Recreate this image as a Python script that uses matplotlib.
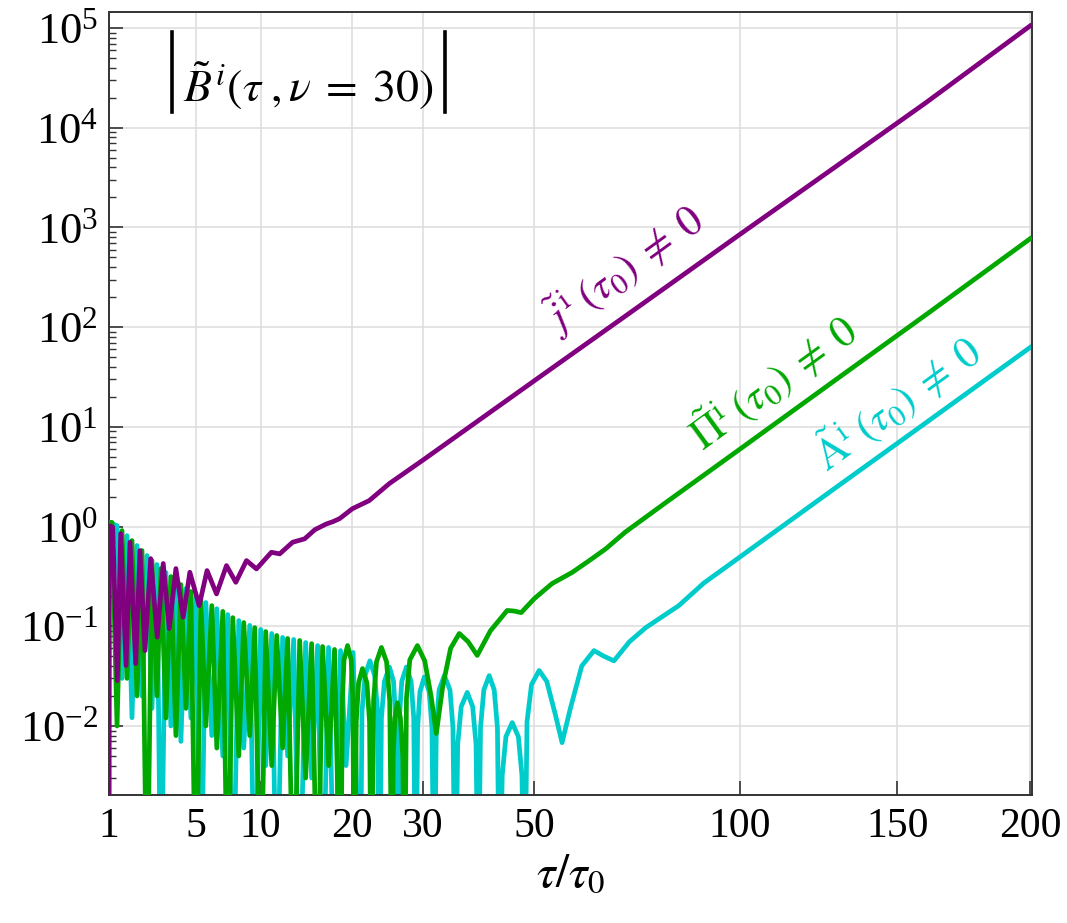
import numpy as np
import matplotlib
matplotlib.use("Agg")
import matplotlib.pyplot as plt
from matplotlib.ticker import LogLocator, FixedLocator, NullFormatter, LogFormatterMathtext

plt.rcParams['font.family'] = ['Liberation Serif', 'DejaVu Serif']
plt.rcParams['mathtext.fontset'] = 'stix'

# |B^i(tau, nu=30)|, j(tau0) != 0
tau_j = [1.0, 1.01, 1.108, 1.25, 1.361, 1.543, 1.688, 1.905, 2.077, 2.288, 2.541,
         2.849, 3.144, 3.455, 3.818, 4.235, 4.636, 5.225, 5.752, 6.42, 7.16, 7.89,
         8.77, 9.63, 11.0, 11.8, 13.1, 14.37, 15.5, 16.8, 17.6, 18.4, 20.0, 22.2,
         25.0, 30.0, 40.0, 50.0, 70.0, 100.0, 130.0, 160.0, 200.0]
B_j = [1e-4, 1.02, 0.984, 0.0285, 0.851, 0.0404, 0.696, 0.0423, 0.574, 0.057, 0.477,
       0.0776, 0.426, 0.0948, 0.379, 0.123, 0.348, 0.161, 0.362, 0.211, 0.406, 0.276,
       0.456, 0.376, 0.552, 0.532, 0.696, 0.753, 0.93, 1.06, 1.12, 1.20, 1.51, 1.82,
       2.70, 4.63, 12.3, 29.1, 129.0, 850.0, 4230.0, 17700.0, 1.05e5]

# Pi(tau0) != 0
tau_pi = [1.0, 1.087, 1.241, 1.404, 1.578, 1.762, 1.956, 2.161, 2.375, 2.600, 2.834,
          3.029, 3.282, 3.545, 3.818, 4.102, 4.395, 4.699, 5.012, 5.336, 5.670, 6.084,
          6.441, 6.882, 7.260, 7.649, 8.129, 8.540, 9.046, 9.480, 10.01, 10.47, 11.03,
          11.51, 12.09, 12.59, 13.21, 13.84, 14.48, 15.14, 15.81, 16.38, 17.08, 17.79,
          18.52, 18.75, 18.95, 19.39, 19.85, 20.05, 20.27, 20.5, 20.8, 21.31, 21.9,
          22.25, 22.51, 22.8, 23.2, 23.88, 24.6, 25.05, 25.4, 25.55, 25.8, 26.16, 26.6,
          26.95, 27.2, 27.5, 28.0, 29.16, 30.3, 31.3, 32.15, 33.2, 34.5, 35.97, 37.5,
          39.11, 41.5, 44.64, 46.0, 47.34, 50.0, 53.61, 57.86, 61.5, 65.46, 70.0,
          80.0, 100.0, 130.0, 160.0, 200.0]
B_pi = [1.1, 1.10, 0.010, 0.912, 0.03, 0.724, 0.02, 0.575, 1e-4, 0.456, 0.02,
        0.379, 0.012, 0.315, 0.008, 0.262, 0.015, 0.223, 1e-4, 0.185, 0.01, 0.161,
        0.006, 0.141, 1e-4, 0.122, 0.005, 0.109, 0.008, 0.097, 1e-4, 0.0885, 0.004,
        0.0808, 0.006, 0.0754, 1e-4, 0.072, 0.003, 0.067, 1e-4, 0.0626, 0.004, 0.0585,
        1e-4, 0.019, 0.046, 0.064, 0.046, 0.019, 1e-4, 0.011, 0.027, 0.0376, 0.027,
        0.011, 1e-4, 0.018, 0.044, 0.0613, 0.044, 0.018, 1e-4, 0.005, 0.012, 0.0171, 0.012,
        0.005, 1e-4, 0.019, 0.046, 0.064, 0.045, 0.02, 0.0084, 0.025, 0.06, 0.0846, 0.07,
        0.051, 0.09, 0.144, 0.142, 0.137, 0.19, 0.268, 0.346, 0.45, 0.60, 0.88,
        1.74, 5.96, 30.8, 132.0, 770.0]

# A(tau0) != 0
tau_a = [1.0, 1.241, 1.404, 1.578, 1.762, 1.956, 2.161, 2.375, 2.600, 2.834, 3.029,
         3.282, 3.545, 3.818, 4.102, 4.395, 4.699, 5.012, 5.336, 5.670, 6.084, 6.441,
         6.882, 7.260, 7.649, 8.129, 8.540, 9.046, 9.480, 10.01, 10.47, 11.03, 11.51,
         12.09, 12.59, 13.21, 13.84, 14.48, 15.14, 15.81, 16.38, 17.08, 17.79, 18.52,
         19.2, 20.1,
         21.0, 21.25, 21.65, 22.3, 22.95, 23.35,
         23.6, 23.88, 24.3, 25.01, 25.6, 25.9,
         26.16, 26.45, 26.8, 27.49, 28.2, 28.6,
         28.9, 29.2, 29.55, 30.24, 31.0, 31.45,
         31.8, 32.15, 32.6, 33.46, 34.4, 34.9,
         35.3, 35.7, 36.3, 37.35, 38.3, 38.9,
         39.3, 39.7, 40.3, 41.28, 42.2, 42.8,
         43.2, 43.7, 44.4, 45.6, 46.8, 47.5,
         48.0, 48.5, 49.4, 50.94, 52.5, 54.3, 55.72, 57.5, 60.0, 62.73, 65.0, 67.32,
         71.0, 75.0, 83.36, 90.0, 100.0, 130.0, 160.0, 200.0]
B_a = [1.1, 1.02, 0.03, 0.81, 0.0121, 0.645, 0.02, 0.512, 0.015, 0.416, 1e-4,
       0.346, 0.01, 0.287, 0.007, 0.239, 0.012, 0.203, 1e-4, 0.173, 0.008, 0.150,
       0.005, 0.131, 1e-4, 0.114, 0.006, 0.102, 1e-4, 0.093, 0.004, 0.0846, 1e-4,
       0.0772, 0.005, 0.0737, 1e-4, 0.0687, 0.003, 0.064, 1e-4, 0.0613, 1e-4, 0.057,
       0.004, 0.0546,
       1e-4, 0.014, 0.032, 0.045, 0.032, 0.014,
       1e-4, 0.012, 0.028, 0.039, 0.028, 0.012,
       1e-4, 0.012, 0.028, 0.039, 0.028, 0.012,
       1e-4, 0.0095, 0.022, 0.031, 0.022, 0.0095,
       1e-4, 0.0096, 0.023, 0.032, 0.023, 0.0096,
       1e-4, 0.0065, 0.0156, 0.0217, 0.0156, 0.0065,
       1e-4, 0.0096, 0.023, 0.032, 0.023, 0.0096,
       1e-4, 0.0032, 0.0078, 0.0108, 0.0078, 0.0032,
       1e-4, 0.011, 0.026, 0.036, 0.028, 0.013, 0.0068, 0.015, 0.04, 0.057, 0.05, 0.045,
       0.07, 0.097, 0.161, 0.271, 0.494, 2.55, 10.9, 62.4]

x_ticks = [1, 5, 10, 20, 30, 50, 100, 150, 200]
y_ticks = [1e-2, 1e-1, 1e0, 1e1, 1e2, 1e3, 1e4, 1e5]

purple = '#800080'
green = '#00a800'
cyan = '#00cccc'

fig = plt.figure(figsize=(10.67, 9.23), dpi=100)
ax = fig.add_axes([0.1022, 0.1387, 0.8650, 0.8483])

ax.set_xscale('function', functions=(lambda x: np.sqrt(np.maximum(x, 0)), lambda x: x ** 2))
ax.set_yscale('log')

ax.plot(tau_a, B_a, color=cyan, lw=3.4, zorder=2, solid_joinstyle='round')
ax.plot(tau_pi, B_pi, color=green, lw=3.4, zorder=3, solid_joinstyle='round')
ax.plot(tau_j, B_j, color=purple, lw=3.4, zorder=4, solid_joinstyle='round')

ax.set_xlim(1, 200.8)
ax.set_ylim(2.03e-3, 1.45e5)

ax.xaxis.set_major_locator(FixedLocator(x_ticks))
ax.set_xticklabels([str(t) for t in x_ticks])
ax.xaxis.set_minor_locator(FixedLocator([]))
ax.yaxis.set_major_locator(FixedLocator(y_ticks))
ax.yaxis.set_major_formatter(LogFormatterMathtext())
ax.yaxis.set_minor_locator(LogLocator(base=10, subs=np.arange(2, 10), numticks=20))
ax.yaxis.set_minor_formatter(NullFormatter())

ax.tick_params(axis='both', which='both', direction='in', top=False, right=False, color='#333333')
ax.tick_params(axis='x', which='major', length=10, width=1.2, labelsize=30, pad=9)
ax.tick_params(axis='y', which='major', length=10, width=1.2, labelsize=32, pad=8)
ax.tick_params(axis='y', which='minor', length=5, width=1.0)

ax.grid(True, which='major', color='#dddddd', lw=1.1)
ax.set_axisbelow(True)
for sp in ax.spines.values():
    sp.set_color('#333333')
    sp.set_linewidth(1.4)

ax.set_xlabel(r'$\tau/\tau_0$', fontsize=34, labelpad=6)

# title with tall absolute-value bars
ax.plot([0.0683, 0.0683], [0.872, 0.975], color='black', lw=2.6, transform=ax.transAxes, zorder=6)
ax.plot([0.364, 0.364], [0.872, 0.975], color='black', lw=2.6, transform=ax.transAxes, zorder=6)
ax.text(0.080, 0.886, r'$\tilde{B}^{\,i}(\tau\;,\nu\;=\;30)$', transform=ax.transAxes,
        fontsize=33, va='baseline', ha='left')

ax.text(69.7, 387, r'$\tilde{j}^{\,\mathrm{i}}\;(\tau_0)\;\neq\;0$', color=purple, fontsize=31,
        rotation=36, ha='center', va='center', rotation_mode='anchor')
ax.text(109.9, 27.8, r'$\tilde{\Pi}^{\mathrm{i}}\;(\tau_0)\;\neq\;0$', color=green, fontsize=31,
        rotation=36, ha='center', va='center', rotation_mode='anchor')
ax.text(150.0, 17.5, r'$\tilde{\mathrm{A}}^{\mathrm{i}}\;(\tau_0)\;\neq\;0$', color=cyan, fontsize=31,
        rotation=36, ha='center', va='center', rotation_mode='anchor')

fig.savefig('out.png', dpi=100)
